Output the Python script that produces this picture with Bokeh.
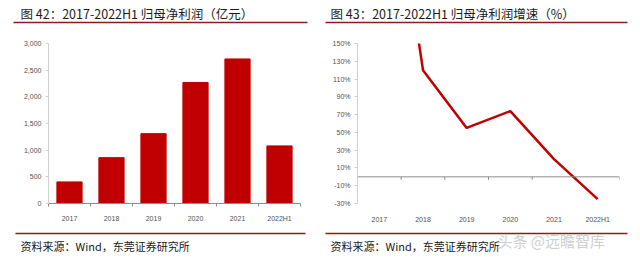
from bokeh.plotting import figure
from bokeh.layouts import row, column
from bokeh.models import (FixedTicker, LinearAxis, Span, NumeralTickFormatter,
                          PrintfTickFormatter, Range1d)
from bokeh.core.properties import value
from bokeh.embed import file_html
from bokeh.resources import INLINE

categories = ["2017", "2018", "2019", "2020", "2021", "2022H1"]
net_profit = [405, 860, 1310, 2270, 2710, 1080]          # 亿元
profit_growth = [450, 120, 55, 74, 20, -25]              # %
profit_ticks = [0, 500, 1000, 1500, 2000, 2500, 3000]
growth_ticks = [-30, -10, 10, 30, 50, 70, 90, 110, 130, 150]

title_left = "图 42：2017-2022H1 归母净利润（亿元）"
title_right = "图 43：2017-2022H1 归母净利润增速（%）"
source_text = "资料来源：Wind，东莞证券研究所"
watermark = "头条 @远瞻智库"

RED = "#C00000"
DARK = "#8E1B1B"
CJK = "Noto Sans CJK SC"
TICK_FONT = "Liberation Sans"

W = 640
TOP_H = 26
MID_H = 204
BOT_H = 259 - TOP_H - MID_H

xc = [i + 0.5 for i in range(len(categories))]
bounds = list(range(len(categories) + 1))
label_over = {i + 0.5: c for i, c in enumerate(categories)}


def strip(h):
    s = figure(width=W, height=h, output_backend="svg", toolbar_location=None,
               x_range=Range1d(0, W), y_range=Range1d(h, 0),
               min_border=0, x_axis_location=None, y_axis_location=None)
    s.outline_line_color = None
    s.xgrid.visible = False
    s.ygrid.visible = False
    return s


def base_fig(bl, br, bt, bb, y0, y1):
    p = figure(width=320, height=MID_H, output_backend="svg", toolbar_location=None,
               x_range=Range1d(0, len(categories)), y_range=Range1d(y0, y1),
               min_border_left=bl, min_border_right=br, min_border_top=bt,
               min_border_bottom=bb, x_axis_location=None, y_axis_location=None)
    p.outline_line_color = None
    p.xgrid.visible = False
    p.ygrid.visible = False
    return p


def style_y(ax):
    ax.axis_line_color = "#D0D0D0"
    ax.major_tick_line_color = "#D0D0D0"
    ax.major_tick_out = 3
    ax.major_tick_in = 0
    ax.minor_tick_line_color = None
    ax.major_label_text_font = TICK_FONT
    ax.major_label_text_font_size = "7px"
    ax.major_label_text_color = "#505050"
    ax.major_label_standoff = 4


def style_x(ax):
    ax.major_tick_line_color = None
    ax.major_label_text_font = TICK_FONT
    ax.major_label_text_font_size = "7px"
    ax.major_label_text_color = "#505050"


# ---------- top strip: titles ----------
top = strip(TOP_H)
top.text(x=[20, 330], y=[13, 13], text=[title_left, title_right],
         text_font=value(CJK), text_font_size="12.5px", text_color="#1a1a1a",
         text_baseline="middle")
top.segment(x0=[13, 325], y0=[22, 22], x1=[307, 627], y1=[22, 22],
            line_color=DARK, line_width=1.5)

# ---------- left: bar chart ----------
p1 = base_fig(48, 20, 41 - TOP_H, TOP_H + MID_H - 208, 0, 3000)
p1.vbar(x=xc, top=net_profit, width=0.6, fill_color=RED, line_color=RED)

ya = LinearAxis(ticker=FixedTicker(ticks=profit_ticks),
                formatter=NumeralTickFormatter(format="0,0"))
style_y(ya)
p1.add_layout(ya, "left")

xa = LinearAxis(ticker=FixedTicker(ticks=xc, minor_ticks=bounds),
                major_label_overrides=label_over)
style_x(xa)
xa.axis_line_color = "#8C8C8C"
xa.minor_tick_line_color = "#8C8C8C"
xa.minor_tick_out = 3
xa.minor_tick_in = 0
xa.major_label_standoff = 5
p1.add_layout(xa, "below")

# ---------- right: line chart ----------
p2 = base_fig(37, 21, 43 - TOP_H, TOP_H + MID_H - 203, -30, 150)
p2.add_layout(Span(location=0, dimension="width", line_color="#8C8C8C", line_width=1))
p2.segment(x0=bounds, y0=[0] * len(bounds), x1=bounds, y1=[-3.4] * len(bounds),
           line_color="#8C8C8C", line_width=1)
p2.line(x=xc, y=profit_growth, line_color=RED, line_width=2.5)

ya2 = LinearAxis(ticker=FixedTicker(ticks=growth_ticks),
                 formatter=PrintfTickFormatter(format="%d%%"))
style_y(ya2)
p2.add_layout(ya2, "left")

xa2 = LinearAxis(ticker=FixedTicker(ticks=xc), major_label_overrides=label_over)
style_x(xa2)
xa2.axis_line_color = None
xa2.minor_tick_line_color = None
xa2.major_label_standoff = 6
p2.add_layout(xa2, "below")

# ---------- bottom strip: sources ----------
bot = strip(BOT_H)
by = 233 - (TOP_H + MID_H)
bot.segment(x0=[15, 325], y0=[by, by], x1=[305, 627], y1=[by, by],
            line_color=DARK, line_width=1.5)
bot.text(x=[20, 330], y=[245 - (TOP_H + MID_H)] * 2, text=[source_text, source_text],
         text_font=value(CJK), text_font_size="11px", text_color="#1a1a1a",
         text_baseline="middle")
bot.text(x=[497], y=[10], text=[watermark], text_font=value(CJK),
         text_font_size="15px", text_color="#C8C8C8", text_alpha=0.9,
         text_baseline="middle")

layout = column(top, row(p1, p2, spacing=0), bot, spacing=0)
open("out.html", "w").write(file_html(layout, INLINE))
